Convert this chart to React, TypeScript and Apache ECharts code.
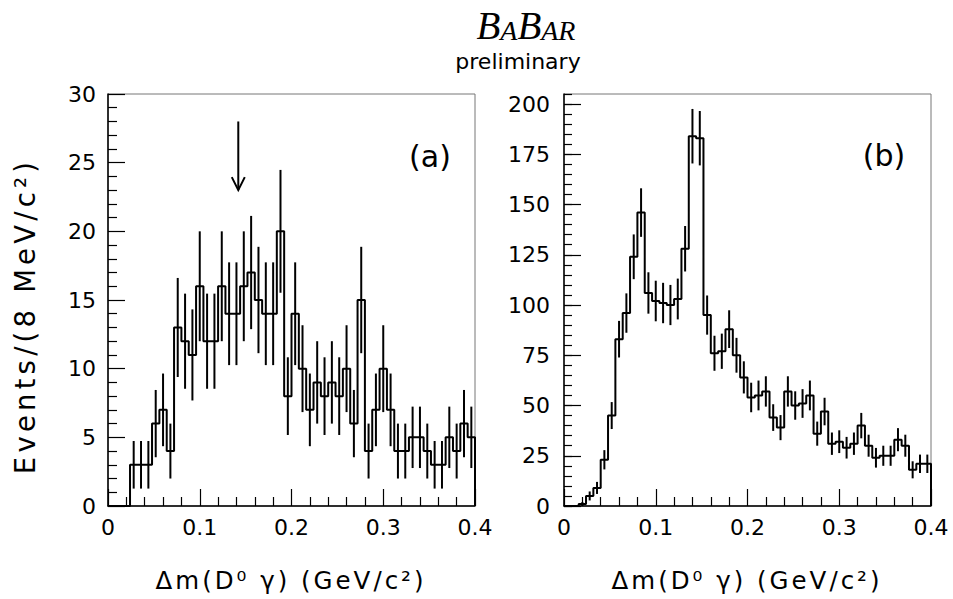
import React, { useEffect, useRef } from "react";
import * as echarts from "echarts";

// ---- data ----
const binWidth = 0.008; // GeV/c^2 (8 MeV)
const xRange = [0, 0.4];
const xTicks = [0, 0.1, 0.2, 0.3, 0.4];

// panel (a): events per bin
const countsA = [
  0, 0, 0, 3, 3, 3, 6, 7, 4, 13,
  12, 11, 16, 12, 12, 16, 14, 14, 16, 17,
  15, 14, 14, 20, 8, 14, 10, 7, 9, 8,
  9, 8, 10, 6, 15, 4, 7, 10, 7, 4,
  4, 5, 5, 4, 3, 3, 5, 4, 6, 5,
];

// panel (b): events per bin
const countsB = [
  0, 0, 1, 5, 9, 23, 45, 83, 96, 124,
  146, 106, 102, 101, 100, 103, 128, 184, 183, 95,
  76, 77, 88, 75, 64, 54, 55, 57, 44, 39,
  57, 50, 51, 55, 36, 47, 31, 32, 29, 31,
  40, 30, 24, 25, 25, 33, 30, 18, 21, 21,
];

const yTicksA = [0, 5, 10, 15, 20, 25, 30];
const yTicksB = [0, 25, 50, 75, 100, 125, 150, 175, 200];
const yMaxB = 205;

// arrow in panel (a): [x, yTail, yTip]
const arrowA = [[0.142, 28, 23]];

const panelLabels = ["(a)", "(b)"];
const xTitle = "\u0394m(D\u2070 \u03b3) (GeV/c\u00b2)";
const yTitle = "Events/(8 MeV/c\u00b2)";

// ---- helpers ----
function stepPoints(counts: number[]) {
  const pts: number[][] = [];
  counts.forEach((v, i) => {
    pts.push([i * binWidth, v]);
    pts.push([(i + 1) * binWidth, v]);
  });
  pts.push([counts.length * binWidth, 0]);
  return pts;
}
function errPoints(counts: number[]) {
  const out: number[][] = [];
  counts.forEach((v, i) => {
    if (v > 0) out.push([(i + 0.5) * binWidth, v, Math.sqrt(v)]);
  });
  return out;
}

const FONT = "'DejaVu Sans', 'Liberation Sans', sans-serif";
const BLACK = "#000";
const X_TITLE_SIZE = 24.5;
const Y_TITLE_SIZE = 27.5;

const grids = [
  { left: 108, top: 94, width: 367, height: 412 },
  { left: 564, top: 94, width: 367, height: 412 },
];

function xAxisOpt(gridIndex: number) {
  return {
    type: "value",
    gridIndex,
    min: xRange[0],
    max: xRange[1],
    interval: xTicks[1] - xTicks[0],
    axisLine: { show: true, onZero: false, lineStyle: { color: BLACK, width: 1.5 } },
    axisTick: { show: true, inside: true, length: 17, lineStyle: { color: BLACK, width: 1.2 } },
    minorTick: { show: true, splitNumber: 5, length: 9, lineStyle: { color: BLACK, width: 1.2 } },
    axisLabel: { show: true, color: BLACK, fontFamily: FONT, fontSize: 22, margin: 10 },
    splitLine: { show: false },
    minorSplitLine: { show: false },
  };
}

function centeredText(x: number, y: number, text: string, size: number, extra: any = {}) {
  return {
    type: "text",
    x,
    y,
    ...extra,
    style: {
      text,
      fontFamily: FONT,
      fontSize: size,
      fill: BLACK,
      align: "center",
      verticalAlign: "middle",
      textAlign: "center",
      textVerticalAlign: "middle",
    },
  };
}

export default function App() {
  const ref = useRef<HTMLDivElement>(null);
  useEffect(() => {
    if (!ref.current) return;
    const chart = echarts.init(ref.current, undefined, { renderer: "svg" });

    const errRender = (params: any, api: any) => {
      const x = api.value(0);
      const v = api.value(1);
      const e = api.value(2);
      const p1 = api.coord([x, v - e]);
      const p2 = api.coord([x, v + e]);
      return {
        type: "line",
        shape: { x1: p1[0], y1: p1[1], x2: p2[0], y2: p2[1] },
        style: { stroke: BLACK, lineWidth: 2 },
      };
    };

    const arrowRender = (params: any, api: any) => {
      const x = api.value(0);
      const tail = api.coord([x, api.value(1)]);
      const tip = api.coord([x, api.value(2)]);
      return {
        type: "group",
        children: [
          {
            type: "line",
            shape: { x1: tail[0], y1: tail[1], x2: tip[0], y2: tip[1] },
            style: { stroke: BLACK, lineWidth: 2 },
          },
          {
            type: "polyline",
            shape: {
              points: [
                [tip[0] - 6.5, tip[1] - 13],
                [tip[0], tip[1]],
                [tip[0] + 6.5, tip[1] - 13],
              ],
            },
            style: { stroke: BLACK, lineWidth: 2, fill: "none" },
          },
        ],
      };
    };

    const lineStyle = { color: BLACK, width: 2 };

    const option: any = {
      animation: false,
      backgroundColor: "#fff",
      grid: grids.map((g) => ({
        ...g,
        show: true,
        borderColor: "#777",
        borderWidth: 1,
        backgroundColor: "transparent",
        containLabel: false,
        outerBoundsMode: "none",
      })),
      xAxis: [xAxisOpt(0), xAxisOpt(1)],
      yAxis: [
        {
          type: "value",
          gridIndex: 0,
          position: "left",
          min: yTicksA[0],
          max: yTicksA[yTicksA.length - 1],
          interval: yTicksA[1] - yTicksA[0],
          axisLine: { show: true, onZero: false, lineStyle: { color: BLACK, width: 1.5 } },
          axisTick: { show: true, inside: true, length: 17, lineStyle: { color: BLACK, width: 1.2 } },
          minorTick: { show: true, splitNumber: 5, length: 9, lineStyle: { color: BLACK, width: 1.2 } },
          axisLabel: { show: true, color: BLACK, fontFamily: FONT, fontSize: 22, margin: 12 },
          splitLine: { show: false },
          minorSplitLine: { show: false },
        },
        {
          type: "value",
          gridIndex: 1,
          position: "left",
          min: yTicksB[0],
          max: yMaxB,
          interval: yTicksB[1] - yTicksB[0],
          axisLine: { show: true, onZero: false, lineStyle: { color: BLACK, width: 1.5 } },
          axisTick: { show: true, inside: true, length: 17, lineStyle: { color: BLACK, width: 1.2 } },
          minorTick: { show: false },
          axisLabel: {
            show: true,
            color: BLACK,
            fontFamily: FONT,
            fontSize: 22,
            margin: 14,
            showMaxLabel: false,
            formatter: (v: number) => (yTicksB.indexOf(v) >= 0 ? String(v) : ""),
          },
          splitLine: { show: false },
          minorSplitLine: { show: false },
        },
        {
          type: "value",
          gridIndex: 1,
          position: "left",
          offset: 0,
          min: yTicksB[0],
          max: yMaxB,
          interval: 5,
          axisLine: { show: false },
          axisTick: { show: true, inside: true, length: 8, lineStyle: { color: BLACK, width: 1.2 } },
          axisLabel: { show: false },
          splitLine: { show: false },
        },
      ],
      series: [
        {
          type: "line",
          xAxisIndex: 0,
          yAxisIndex: 0,
          data: stepPoints(countsA),
          symbol: "none",
          lineStyle,
          clip: false,
          silent: true,
        },
        {
          type: "custom",
          xAxisIndex: 0,
          yAxisIndex: 0,
          data: errPoints(countsA),
          renderItem: errRender,
          silent: true,
        },
        {
          type: "custom",
          xAxisIndex: 0,
          yAxisIndex: 0,
          data: arrowA,
          renderItem: arrowRender,
          silent: true,
        },
        {
          type: "line",
          xAxisIndex: 1,
          yAxisIndex: 1,
          data: stepPoints(countsB),
          symbol: "none",
          lineStyle,
          clip: false,
          silent: true,
        },
        {
          type: "custom",
          xAxisIndex: 1,
          yAxisIndex: 1,
          data: errPoints(countsB),
          renderItem: errRender,
          silent: true,
        },
      ],
      graphic: [
        {
          type: "text",
          x: 526,
          y: 25,
          style: {
            text: "{b|B}{s|A}{b|B}{s|AR}",
            align: "center",
            verticalAlign: "middle",
            textAlign: "center",
            textVerticalAlign: "middle",
            rich: {
              b: { fontFamily: "'Liberation Serif', serif", fontStyle: "italic", fontSize: 39, fill: BLACK, color: BLACK, verticalAlign: "bottom" },
              s: { fontFamily: "'Liberation Serif', serif", fontStyle: "italic", fontSize: 28, fill: BLACK, color: BLACK, verticalAlign: "bottom" },
            },
          },
        },
        centeredText(518, 61, "preliminary", 22),
        centeredText(430, 156, panelLabels[0], 30),
        centeredText(884, 155, panelLabels[1], 30),
        centeredText(291, 580, xTitle, X_TITLE_SIZE),
        centeredText(747, 580, xTitle, X_TITLE_SIZE),
        centeredText(25, 316, yTitle, Y_TITLE_SIZE, { rotation: Math.PI / 2 }),
      ],
    };

    chart.setOption(option);
    return () => {
      chart.dispose();
    };
  }, []);

  return (
    <>
      <style>{`
        .hist-chart text[style*="${X_TITLE_SIZE}px"] { letter-spacing: 3px; }
        .hist-chart text[style*="${Y_TITLE_SIZE}px"] { letter-spacing: 4.2px; }
      `}</style>
      <div
        ref={ref}
        className="hist-chart"
        style={{ position: "fixed", left: 0, top: 0, width: 953, height: 599, background: "#fff" }}
      />
    </>
  );
}
